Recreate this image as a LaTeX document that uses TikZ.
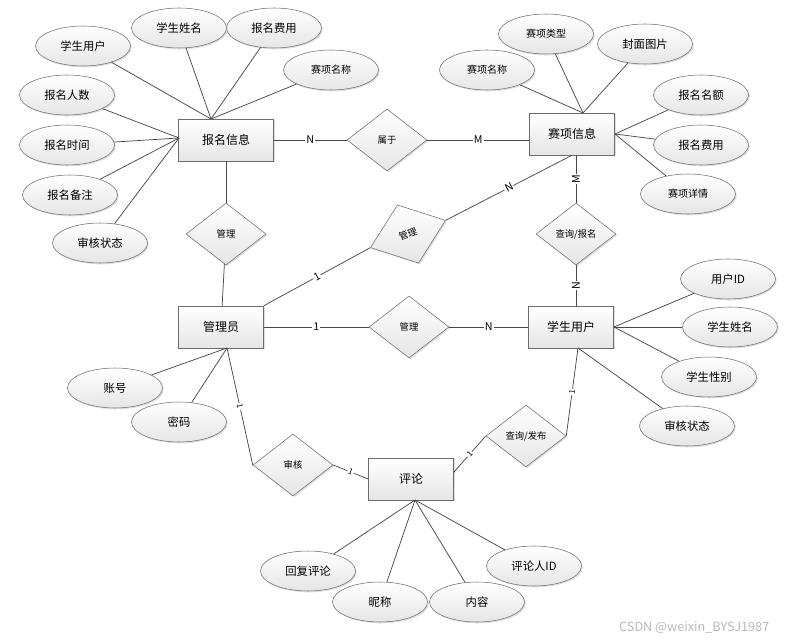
\documentclass[tikz,border=0pt]{standalone}
\usepackage{fontspec}
\setmainfont{Noto Sans CJK SC}
\usetikzlibrary{shapes.geometric,shadows}

\begin{document}
\begin{tikzpicture}[x=0.75pt, y=-0.75pt,
        shp/.style={draw=gray!85!black, top color=white, bottom color=gray!20,
            drop shadow={opacity=0.25, shadow xshift=1pt, shadow yshift=-1pt}},
        entity/.style={shp, rectangle, minimum width=63.75pt, minimum height=31.5pt, font=\fontsize{9}{11}\selectfont},
        attr/.style={shp, ellipse, minimum width=71.25pt, minimum height=30pt, inner sep=0pt, font=\fontsize{8.5}{10}\selectfont},
        sattr/.style={attr, font=\fontsize{7.5}{9}\selectfont},
        rel/.style={shp, diamond, minimum width=60pt, minimum height=46.5pt, inner sep=0pt, font=\fontsize{7}{8}\selectfont},
        link/.style={draw=black!72, line width=0.55pt},
        card/.style={fill=white, inner sep=0.8pt, font=\fontsize{8}{9}\selectfont},
        scard/.style={card, font=\fontsize{6}{7}\selectfont}]
        \useasboundingbox (0,0) rectangle (790,642);

        % entities
        \node[entity, minimum width=71.25pt] (bmxx) at (226,140) {报名信息};
        \node[entity] (ssxx) at (572,134) {赛项信息};
        \node[entity] (gly) at (221,327) {管理员};
        \node[entity] (xsyh) at (571,327) {学生用户};
        \node[entity] (pl) at (411,479) {评论};

        % relations
        \node[rel] (sy) at (387,140) {属于};
        \node[rel] (gla) at (226,234) {管理};
        \node[rel, rotate=20] (glb) at (408,234) {管理};
        \node[rel] (cxbm) at (576,234) {查询/报名};
        \node[rel] (glc) at (409,327) {管理};
        \node[rel] (sh) at (293,465) {审核};
        \node[rel] (cxfb) at (526,436) {查询/发布};

        % attributes of 报名信息
        \node[attr] (bxsyh) at (83,46) {学生用户};
        \node[attr] (bxsxm) at (179,28) {学生姓名};
        \node[attr] (bbmfy) at (274,28) {报名费用};
        \node[sattr] (bssmc) at (331,70) {赛项名称};
        \node[attr] (bbmrs) at (67,95) {报名人数};
        \node[attr] (bbmsj) at (67,145) {报名时间};
        \node[attr] (bbmbz) at (70,195) {报名备注};
        \node[attr] (bshzt) at (100,243) {审核状态};
        \coordinate (bt) at (211,119);
        \coordinate (bl) at (179,138);
        \foreach \a in {bxsyh, bxsxm, bbmfy, bssmc}
            \draw[link] (bt) -- (\a);
        \foreach \a in {bbmrs, bbmsj, bbmbz, bshzt}
            \draw[link] (bl) -- (\a);

        % attributes of 赛项信息
        \node[sattr] (sssmc) at (487,70) {赛项名称};
        \node[sattr] (ssslx) at (546,34) {赛项类型};
        \node[attr] (sfmtp) at (645,44) {封面图片};
        \node[attr] (sbmme) at (701,95) {报名名额};
        \node[attr] (sbmfy) at (701,145) {报名费用};
        \node[sattr] (sssxq) at (688,194) {赛项详情};
        \coordinate (st) at (583,113);
        \coordinate (sr) at (615,134);
        \foreach \a in {sssmc, ssslx, sfmtp}
            \draw[link] (st) -- (\a);
        \foreach \a in {sbmme, sbmfy, sssxq}
            \draw[link] (sr) -- (\a);

        % attributes of 学生用户
        \node[attr] (uyhid) at (728,279) {用户ID};
        \node[attr] (uxsxm) at (730,327) {学生姓名};
        \node[attr] (uxsxb) at (709,377) {学生性别};
        \node[attr] (ushzt) at (687,426) {审核状态};
        \coordinate (ur) at (614,327);
        \coordinate (ub) at (578,348);
        \foreach \a in {uyhid, uxsxm, uxsxb}
            \draw[link] (ur) -- (\a);
        \draw[link] (ub) -- (ushzt);

        % attributes of 管理员
        \node[attr] (gzh) at (115,388) {账号};
        \node[attr] (gmm) at (179,422) {密码};
        \coordinate (gb) at (227,348);
        \draw[link] (gb) -- (gzh);
        \draw[link] (gb) -- (gmm);

        % attributes of 评论
        \node[attr] (phfpl) at (308,571) {回复评论};
        \node[attr] (pnc) at (380,602) {昵称};
        \node[attr] (pnr) at (477,602) {内容};
        \node[attr] (pplrid) at (534,566) {评论人ID};
        \coordinate (pb) at (415,500);
        \foreach \a in {phfpl, pnc, pnr, pplrid}
            \draw[link] (pb) -- (\a);

        % relationships
        \draw[link] (bmxx) -- node[card] {N} (sy);
        \draw[link] (sy) -- node[card] {M} (sy -| ssxx.west);
        \draw[link] (bmxx) -- (gla);
        \draw[link] (gla) -- (gly);
        \draw[link] (gly.north east) -- node[card, sloped] {1} (glb.west);
        \draw[link] (glb.east) -- node[card, sloped] {N} (ssxx.south);
        \draw[link] (cxbm.north |- ssxx.south) -- node[card, rotate=90] {M} (cxbm.north);
        \draw[link] (cxbm.south) -- node[card, rotate=90] {N} (cxbm.south |- xsyh.north);
        \draw[link] (gly) -- node[card] {1} (glc);
        \draw[link] (glc) -- node[card] {N} (xsyh);
        \draw[link] (gb) -- node[scard, sloped] {1} (sh.west);
        \draw[link] (sh.east) -- node[scard, sloped] {1} (pl.west);
        \coordinate (pr) at ([yshift=5pt]pl.east);
        \draw[link] (pr) -- node[scard, sloped] {1} (cxfb.west);
        \draw[link] (cxfb.east) -- node[scard, sloped] {1} (ub);

        \node[text=gray!55, anchor=east, font=\fontsize{9.5}{11}\selectfont] (wm) at (774,628) {CSDN @weixin\_BYSJ1987};
\end{tikzpicture}
\end{document}
